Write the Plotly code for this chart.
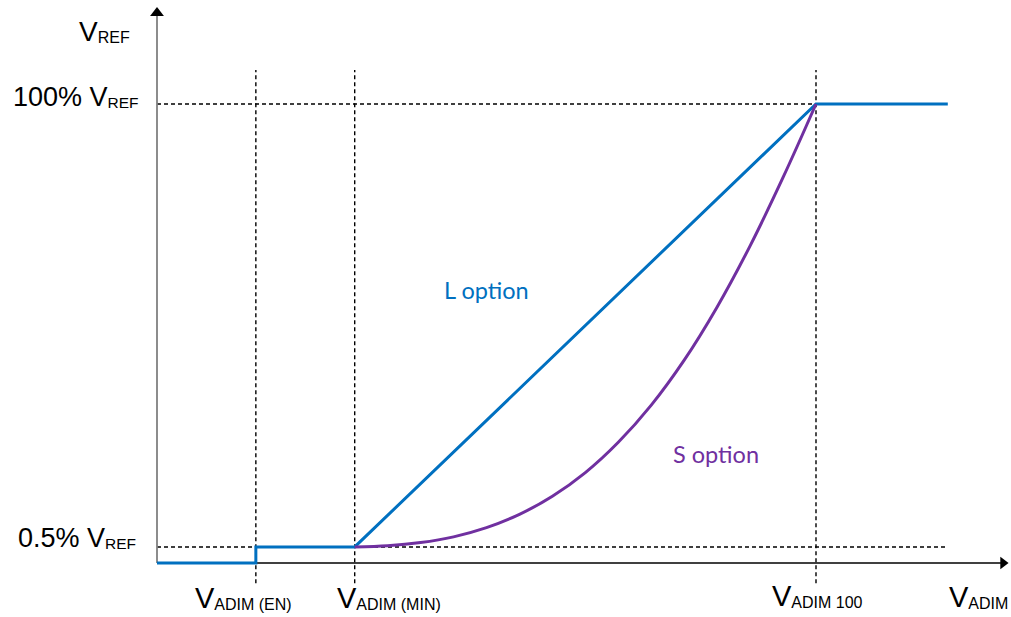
import plotly.graph_objects as go

# ---------------- data (schematic units) ----------------
# x: ADIM voltage (schematic), y: % of VREF (0.5 % level drawn exaggerated)
X_EN, X_MIN, X_100, X_END = 0.3, 0.6, 2.0, 2.4
Y_LOW, Y_FULL = 3.5, 100.0

l_option_x = [0.0, X_EN, X_EN, X_MIN, X_100, X_END]
l_option_y = [0.0, 0.0, Y_LOW, Y_LOW, Y_FULL, Y_FULL]

s_option_x = [0.6, 0.7, 0.8, 0.9, 1.0, 1.1, 1.2, 1.3, 1.4, 1.5, 1.6, 1.7, 1.8, 1.9, 2.0]
s_option_y = [3.5, 3.75, 4.45, 5.7, 7.7, 10.6, 14.55, 19.7, 26.3, 34.4, 44.2, 55.8, 69.1, 84.0, 100.0]

x_markers = [X_EN, X_MIN, X_100]
y_markers = [Y_LOW, Y_FULL]

# ---------------- layout constants ----------------
W, H = 1011, 617
X_RANGE = [-0.47648, 2.59181]
Y_RANGE = [-11.7647, 122.658]
DASH_TOP, DASH_BOTTOM = 107.4, -4.4
X_AXIS_END, Y_AXIS_END = 2.568, 119.2
X_ARROW_C, Y_ARROW_C = 2.5678, 119.8

BLUE = "#0070C0"
PURPLE = "#7030A0"
FONT = "Liberation Sans, Arial, Helvetica, sans-serif"
LBL_FONT = "Lato, Open Sans, sans-serif"

fig = go.Figure()

dash_style = dict(color="black", width=1.4, dash="4px,3px")
for xv in x_markers:
    fig.add_trace(go.Scatter(x=[xv, xv], y=[DASH_BOTTOM, DASH_TOP], mode="lines",
                             line=dash_style, hoverinfo="skip"))
fig.add_trace(go.Scatter(x=[0, X_100], y=[Y_FULL, Y_FULL], mode="lines",
                         line=dash_style, hoverinfo="skip"))
fig.add_trace(go.Scatter(x=[0, X_END], y=[Y_LOW, Y_LOW], mode="lines",
                         line=dash_style, hoverinfo="skip"))

# axes
fig.add_trace(go.Scatter(x=[0, X_AXIS_END], y=[0, 0], mode="lines",
                         line=dict(color="black", width=1.5), hoverinfo="skip"))
fig.add_trace(go.Scatter(x=[0, 0], y=[0, Y_AXIS_END], mode="lines",
                         line=dict(color="#808080", width=1.8), hoverinfo="skip"))
fig.add_trace(go.Scatter(x=[X_ARROW_C], y=[0], mode="markers",
                         marker=dict(symbol="triangle-right", size=11, color="black"),
                         hoverinfo="skip"))
fig.add_trace(go.Scatter(x=[0], y=[Y_ARROW_C], mode="markers",
                         marker=dict(symbol="triangle-up", size=12, color="black"),
                         hoverinfo="skip"))

# curves
fig.add_trace(go.Scatter(x=l_option_x, y=l_option_y, mode="lines",
                         line=dict(color=BLUE, width=3), name="L option"))
fig.add_trace(go.Scatter(x=s_option_x, y=s_option_y, mode="lines", line_shape="spline",
                         line=dict(color=PURPLE, width=3, smoothing=1.0), name="S option"))


def lab(main, sub, ss):
    # small outer span keeps the subscript's baseline shift small (~2px)
    return (f"{main}<span style='font-size:11px'><sub>"
            f"<span style='font-size:{ss}px'>{sub}</span></sub></span>")


annos = [
    (lab("V", "REF", 16), 77, 31, "left", 28),
    (lab("100% V", "REF", 15.5), 141, 97, "right", 27),
    (lab("0.5% V", "REF", 15.5), 138, 538, "right", 27),
    (lab("V", "ADIM (EN)", 16), 193, 598, "left", 29),
    (lab("V", "ADIM (MIN)", 16), 335, 598, "left", 29),
    (lab("V", "ADIM 100", 16), 770, 596, "left", 29),
    (lab("V", "ADIM", 16), 947, 597, "left", 29),
]
for text, px, py, anchor, size in annos:
    fig.add_annotation(text=text, x=px / W, y=1 - py / H, xref="paper", yref="paper",
                       xanchor=anchor, yanchor="middle", showarrow=False,
                       font=dict(family=FONT, size=size, color="black"))

fig.add_annotation(text="L option", x=486 / W, y=1 - 290 / H, xref="paper", yref="paper",
                   xanchor="center", yanchor="middle", showarrow=False,
                   font=dict(family=LBL_FONT, size=23.5, color=BLUE))
fig.add_annotation(text="S option", x=716 / W, y=1 - 454 / H, xref="paper", yref="paper",
                   xanchor="center", yanchor="middle", showarrow=False,
                   font=dict(family=LBL_FONT, size=23.5, color=PURPLE))

fig.update_layout(
    width=W, height=H, margin=dict(l=0, r=0, t=0, b=0),
    paper_bgcolor="white", plot_bgcolor="white", showlegend=False,
    xaxis=dict(range=X_RANGE, visible=False, fixedrange=True),
    yaxis=dict(range=Y_RANGE, visible=False, fixedrange=True),
)

fig.write_html("out.html", config={"displayModeBar": False},
               post_script="document.body.style.margin='0';document.body.style.overflow='hidden';")
